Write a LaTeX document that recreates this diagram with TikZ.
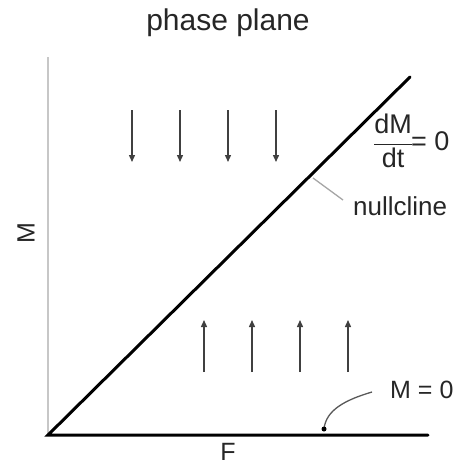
\documentclass[tikz,border=0pt]{standalone}
\usepackage{fontspec}
\setmainfont{Liberation Sans}
\usetikzlibrary{arrows.meta}
\begin{document}
\begin{tikzpicture}[x=1pt,y=-1pt,
  lbl/.style={font=\fontsize{25}{27}\selectfont, text=black!85, inner sep=0pt},
  fld/.style={draw=black!75, line width=1.4pt, -{Triangle[length=7pt,width=6pt]}},
  curve/.style={draw=black, line width=3pt},
  lead/.style={draw=black!35, line width=1.3pt}]
\useasboundingbox (0,0) rectangle (456,466);
\coordinate (O) at (48,435);
\coordinate (ytop) at (48,57);
\coordinate (xend) at (428,435);
\coordinate (dend) at (410,77);
\draw[draw=black!22, line width=2pt] (O) -- (ytop);
\draw[curve, line cap=round] (xend) -- (O) -- (dend);
\node[lbl, font=\fontsize{30}{32}\selectfont] (title) at (228,23) {phase plane};
\node[lbl, rotate=90] (ylab) at (26,233) {M};
\node[lbl] (xlab) at (228,452) {F};
% down arrows
\foreach \x [count=\i] in {132,180,228,276} {
  \coordinate (d\i a) at (\x,110);
  \coordinate (d\i b) at (\x,162);
  \draw[fld] (d\i a) -- (d\i b);
}
% up arrows
\foreach \x [count=\i] in {204,252,300,348} {
  \coordinate (u\i a) at (\x,372);
  \coordinate (u\i b) at (\x,320);
  \draw[fld] (u\i a) -- (u\i b);
}
\node[lbl, anchor=west, font=\fontsize{27}{29}\selectfont] (frac) at (373,141) {$\displaystyle\frac{\mbox{dM}}{\mbox{dt}}$\kern-2pt= 0};
\node[lbl, anchor=west, font=\fontsize{26}{28}\selectfont] (null) at (353,206) {nullcline};
\coordinate (np) at (313,178);
\coordinate (nq) at (343,200);
\draw[lead] (np) -- (nq);
\node[lbl, anchor=west] (m0) at (390,390) {M = 0};
\coordinate (mp) at (324,429);
\coordinate (mq) at (372,392);
\draw[draw=black!65, line width=1.3pt] (mq) .. controls (345,400) and (326,410) .. (mp);
\fill[black] (mp) circle (2.5pt);
\end{tikzpicture}
\end{document}
